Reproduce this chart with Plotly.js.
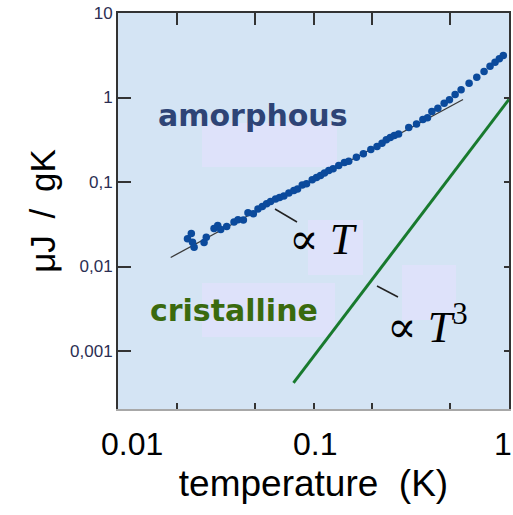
<!DOCTYPE html>
<html><head><meta charset="utf-8">
<script src="https://cdn.plot.ly/plotly-3.0.1.min.js"></script>
<style>html,body{margin:0;padding:0;background:#fff}#chart{width:513px;height:515px}</style>
</head><body><div id="chart"></div>
<script>
// amorphous specific heat data (T in K, C in µJ/gK)
const amorphousT = [0.02267,0.02371,0.02405,0.02451,0.02756,0.02828,0.03099,0.03237,0.03353,0.03597,
  0.03921,0.04109,0.04378,0.04622,0.04924,0.05197,0.05473,0.05756,0.06033,0.06397,
  0.06706,0.07054,0.07482,0.07934,0.08287,0.08758,0.09211,0.09849,0.1036,0.1086,
  0.1138,0.1197,0.1260,0.1346,0.1439,0.1514,0.1657,0.1799,0.1965,0.2113,
  0.2241,0.2357,0.2471,0.2590,0.2724,0.3071,0.3365,0.3627,0.3829,0.4031,
  0.4327,0.4660,0.4959,0.5303,0.5689,0.6250,0.6842,0.7454,0.8000,0.8485,
  0.8923,0.9352];
const amorphousC = [0.02127,0.02458,0.01939,0.01692,0.01923,0.02222,0.02817,0.03056,0.02741,0.02974,
  0.03362,0.03570,0.03550,0.04320,0.04205,0.04792,0.05131,0.05521,0.05877,0.06291,
  0.06555,0.06828,0.07411,0.07931,0.08264,0.09216,0.09521,0.1062,0.1130,0.1194,
  0.1278,0.1368,0.1433,0.1568,0.1701,0.1762,0.1965,0.2157,0.2425,0.2631,
  0.2878,0.3158,0.3362,0.3550,0.3698,0.4416,0.4858,0.5490,0.5752,0.6830,
  0.7470,0.8561,0.9393,1.085,1.233,1.476,1.739,2.031,2.346,2.617,
  2.871,3.141];
// ∝ T guide line
const fitT = [0.0186, 0.582];
const fitC = [0.0128, 0.947];
// crystalline ∝ T^3 line
const crystalT = [0.079, 1.0];
const crystalC = [0.00042, 0.95];
// ticks
const xTickVals = [0.01, 0.02, 0.05, 0.1, 0.2, 0.5, 1];
const xLabelVals = [0.01, 0.1, 1];
const xLabelText = ['0.01', '0.1', '1'];
const yTickVals = [0.001, 0.01, 0.1, 1, 10];
const yTickText = ['0,001', '0,01', '0,1', '1', '10'];

const traces = [
  {type:'scatter', mode:'lines', x:fitT, y:fitC, line:{color:'#3a3a3a', width:1.3}, hoverinfo:'skip'},
  {type:'scatter', mode:'markers', x:amorphousT, y:amorphousC, marker:{color:'#0b4a9c', size:7.5, line:{width:0}}},
  {type:'scatter', mode:'lines', x:crystalT, y:crystalC, line:{color:'#187a2e', width:3}, hoverinfo:'skip'},
  {type:'scatter', x:[], y:[], xaxis:'x2', yaxis:'y', hoverinfo:'skip'},
  {type:'scatter', x:[], y:[], xaxis:'x', yaxis:'y2', hoverinfo:'skip'}
];

const xShift = [14, 1, -6];
const annotations = xLabelVals.map((v, i) => ({
  x: Math.log10(v), xref:'x', y:0, yref:'paper', yanchor:'top', xanchor:'center',
  yshift:-15, xshift:xShift[i], showarrow:false, text:xLabelText[i],
  font:{family:'Liberation Sans, Arial', size:32, color:'#000'}
}));
annotations.push(
  {xref:'paper', yref:'paper', x:0.3453, y:0.7424, xanchor:'center', yanchor:'middle', showarrow:false, text:'<b>amorphous</b>',
   font:{family:'DejaVu Sans', size:30, color:'#2e4476'}},
  {xref:'paper', yref:'paper', x:0.2954, y:0.25, xanchor:'center', yanchor:'middle', showarrow:false, text:'<b>cristalline</b>',
   font:{family:'DejaVu Sans', size:30, color:'#3a6a0e'}},
  {xref:'paper', yref:'paper', x:0.5256, y:0.4268, xanchor:'center', yanchor:'middle', showarrow:false, text:'∝ <i>T</i>',
   font:{family:'Liberation Serif, DejaVu Serif', size:44, color:'#000'}},
  {xref:'paper', yref:'paper', x:0.7916, y:0.2146, xanchor:'center', yanchor:'middle', showarrow:false, text:'∝ <i>T</i><sup>3</sup>',
   font:{family:'Liberation Serif, DejaVu Serif', size:44, color:'#000'}}
);

const boxColor = '#dee2fa';
const shapes = [
  {type:'rect', xref:'paper', yref:'paper', x0:0.2148, x1:0.5601, y0:0.6111, y1:0.7222, fillcolor:boxColor, line:{width:0}, layer:'below'},
  {type:'rect', xref:'paper', yref:'paper', x0:0.4859, x1:0.6266, y0:0.3384, y1:0.4773, fillcolor:boxColor, line:{width:0}, layer:'below'},
  {type:'rect', xref:'paper', yref:'paper', x0:0.2148, x1:0.5550, y0:0.1818, y1:0.3182, fillcolor:boxColor, line:{width:0}, layer:'below'},
  {type:'rect', xref:'paper', yref:'paper', x0:0.7263, x1:0.8645, y0:0.2247, y1:0.3636, fillcolor:boxColor, line:{width:0}, layer:'below'},
  {type:'line', xref:'paper', yref:'paper', x0:0.4015, y0:0.5051, x1:0.4578, y1:0.4722, line:{color:'#222', width:1.5}},
  {type:'line', xref:'paper', yref:'paper', x0:0.6624, y0:0.3106, x1:0.7161, y1:0.2828, line:{color:'#222', width:1.5}}
];

const axCommon = {type:'log', showgrid:false, zeroline:false, showline:true, linewidth:2,
  ticks:'inside', tickwidth:2, tickcolor:'#333', fixedrange:true};

const layout = {
  width:513, height:515,
  margin:{l:118, r:4, t:13, b:106, pad:0},
  paper_bgcolor:'#ffffff', plot_bgcolor:'#d4e4f4',
  showlegend:false,
  xaxis: Object.assign({}, axCommon, {range:[-2, 0], autorange:false, linecolor:'#a8a8a8',
    ticklen:6, tickvals:xTickVals, showticklabels:false,
    title:{text:'temperature\u00a0\u00a0(K)', font:{family:'Liberation Sans, Arial', size:37, color:'#000'}, standoff:60}}),
  xaxis2: Object.assign({}, axCommon, {range:[-2, 0], autorange:false, overlaying:'x', side:'top',
    linecolor:'#333', ticklen:12, tickvals:xTickVals, showticklabels:false}),
  yaxis: Object.assign({}, axCommon, {range:[-3.686, 1], autorange:false, linecolor:'#333',
    ticklen:13, tickvals:yTickVals, ticktext:yTickText,
    tickfont:{family:'Liberation Sans, Arial', size:17, color:'#2c2e52'},
    title:{text:'μJ\u00a0\u2009/\u2009\u00a0gK', font:{family:'Liberation Sans, Arial', size:35, color:'#000'}, standoff:4}}),
  yaxis2: Object.assign({}, axCommon, {range:[-3.686, 1], autorange:false, overlaying:'y', side:'right',
    linecolor:'#333', ticklen:5, tickvals:yTickVals, showticklabels:false}),
  annotations: annotations,
  shapes: shapes
};

Plotly.newPlot('chart', traces, layout, {displayModeBar:false, staticPlot:true});
</script>
</body></html>
